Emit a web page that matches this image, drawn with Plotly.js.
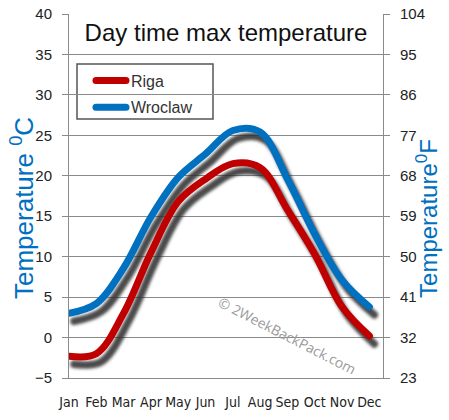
<!DOCTYPE html>
<html>
<head>
<meta charset="utf-8">
<script src="https://cdn.plot.ly/plotly-3.0.1.min.js"></script>
<style>
html,body{margin:0;padding:0;background:#fff;}
#chart{width:449px;height:420px;}
</style>
</head>
<body>
<div id="chart"></div>
<script>
// ---- data ----
var months = ["Jan","Feb","Mar","Apr","May","Jun","Jul","Aug","Sep","Oct","Nov","Dec"];
var monthIndex = [0,1,2,3,4,5,6,7,8,9,10,11];
var riga = [-2.3, -2.0, 3.0, 10.5, 16.8, 19.6, 21.5, 21.0, 15.8, 10.3, 3.8, 0.2];
var wroclaw = [3.0, 4.2, 8.6, 14.9, 19.8, 22.7, 25.6, 25.4, 19.6, 12.8, 7.1, 3.8];
var seriesNames = ["Riga", "Wroclaw"];
var fahrenheitTicks = [23, 32, 41, 50, 59, 68, 77, 86, 95, 104];

// ---- style ----
var colors = ["#c00000", "#0070c0"];
var font = "Liberation Sans, Arial, sans-serif";
var narrow = "Liberation Sans Narrow, Arial Narrow, DejaVu Sans Condensed, sans-serif";
var gridColor = "#8a8a8a";
var titleBlue = "#0070c0";
var plotW = 449 - 69 - 66, plotH = 420 - 14 - 42;
var xSpan = 11.5, ySpan = 45;
var shadowDx = 5 * xSpan / plotW;   // 5 px right
var shadowDy = 8 * ySpan / plotH;   // 8 px down

function shadowTrace(vals) {
  return {x: monthIndex, y: vals, xaxis: "x", yaxis: "y", mode: "lines",
    line: {color: "rgba(40,40,40,0.85)", width: 7.5, shape: "spline", smoothing: 1},
    hoverinfo: "skip", showlegend: false};
}
function mainTrace(vals, i) {
  return {x: monthIndex, y: vals, xaxis: "x2", yaxis: "y2", mode: "lines", name: seriesNames[i],
    legendgroup: "g" + i,
    line: {color: colors[i], width: 7, shape: "spline", smoothing: 1}};
}

var data = [shadowTrace(riga), shadowTrace(wroclaw), mainTrace(riga, 0), mainTrace(wroclaw, 1),
  {x: [], y: [], xaxis: "x2", yaxis: "y3", mode: "lines", showlegend: false, hoverinfo: "skip"}];

var layout = {
  width: 449, height: 420,
  margin: {l: 69, r: 66, t: 14, b: 42},
  paper_bgcolor: "#fff", plot_bgcolor: "#fff",
  font: {family: font, color: "#222"},
  showlegend: true,
  title: {text: "Day time max temperature", font: {family: font, size: 24, color: "#111"},
    x: 0.5, xref: "paper", xanchor: "center", y: 1 - 33/420, yref: "container", yanchor: "middle"},
  xaxis: {range: [-shadowDx, xSpan - shadowDx], visible: false, fixedrange: true},
  yaxis: {range: [-5 + shadowDy, 40 + shadowDy], visible: false, fixedrange: true},
  xaxis2: {overlaying: "x", anchor: "y2", range: [0, xSpan], tickmode: "array", tickvals: monthIndex, ticktext: months,
    showgrid: false, zeroline: false, showline: true, linecolor: gridColor, linewidth: 1, ticks: "",
    tickangle: 0, ticklabelstandoff: 11,
    tickfont: {family: narrow, size: 14, color: "#222"}},
  yaxis2: {overlaying: "y", anchor: "x2", side: "left", range: [-5, 40], dtick: 5, tick0: 0,
    showgrid: true, gridcolor: gridColor, gridwidth: 1, zeroline: false,
    showline: true, linecolor: gridColor, linewidth: 1, ticks: "outside", ticklen: 6, tickcolor: gridColor,
    ticklabelstandoff: 7,
    tickfont: {family: font, size: 15, color: "#222"}},
  yaxis3: {overlaying: "y", anchor: "x2", side: "right", range: [23, 104], tickmode: "array", tickvals: fahrenheitTicks,
    showgrid: false, zeroline: false, showline: true, linecolor: gridColor, linewidth: 1,
    ticks: "outside", ticklen: 6, tickcolor: gridColor,
    ticklabelstandoff: 7,
    tickfont: {family: font, size: 15, color: "#222"}},
  legend: {x: 0.070, y: 0.864, xanchor: "left", yanchor: "top", bgcolor: "rgba(0,0,0,0)",
    borderwidth: 0, font: {family: font, size: 16, color: "#333"},
    tracegroupgap: 3, itemwidth: 30},
  shapes: [{type: "rect", xref: "paper", yref: "paper", x0: 0.0255, x1: 0.4586, y0: 0.7115, y1: 0.8626,
    layer: "between", fillcolor: "#fff", line: {color: "#555", width: 1.5}}],
  annotations: [
    {text: "© 2WeekBackPack.com", x: 8, y: 0.2, xref: "x2", yref: "y2", showarrow: false,
      textangle: 27, font: {family: "Open Sans, sans-serif", size: 14, color: "#9a9a9a"}},
    {text: "Temperature <sup>0</sup>C", xref: "paper", yref: "paper", x: -0.1497, y: 0.467,
      xanchor: "center", yanchor: "middle", textangle: -90, showarrow: false,
      font: {family: font, size: 26, color: titleBlue}},
    {text: "Temperature<sup>0</sup>F", xref: "paper", yref: "paper", x: 1.140, y: 0.4396,
      xanchor: "center", yanchor: "middle", textangle: -90, showarrow: false,
      font: {family: font, size: 24, color: titleBlue}}
  ]
};

Plotly.newPlot("chart", data, layout, {staticPlot: true, displayModeBar: false}).then(function(gd) {
  var svg = gd.querySelector(".main-svg");
  var ns = "http://www.w3.org/2000/svg";
  var defs = svg.querySelector("defs") || svg.insertBefore(document.createElementNS(ns, "defs"), svg.firstChild);
  var f = document.createElementNS(ns, "filter");
  f.setAttribute("id", "shadowBlur");
  f.setAttribute("x", "-20%"); f.setAttribute("y", "-20%");
  f.setAttribute("width", "140%"); f.setAttribute("height", "140%");
  var b = document.createElementNS(ns, "feGaussianBlur");
  b.setAttribute("stdDeviation", "1.8");
  f.appendChild(b); defs.appendChild(f);
  var shadowPlot = gd.querySelector(".subplot.xy .scatterlayer");
  if (shadowPlot) shadowPlot.setAttribute("filter", "url(#shadowBlur)");
  gd.querySelectorAll(".scatterlayer path.js-line, .legend path").forEach(function(p) {
    p.style.strokeLinecap = "round";
  });
});
</script>
</body>
</html>
